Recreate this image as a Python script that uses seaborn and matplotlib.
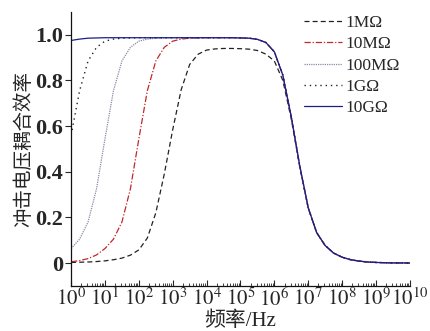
import numpy as np
import pandas as pd
import matplotlib
matplotlib.use("Agg")
import matplotlib.pyplot as plt
import seaborn as sns

# log10 of frequency (Hz)
freq_exp = [0, 0.25, 0.5, 0.75, 1.0, 1.25, 1.5, 1.75, 2.0, 2.25, 2.5, 2.75, 3.0, 3.25, 3.5,
            3.75, 4.0, 4.25, 4.5, 4.75, 5.0, 5.25, 5.5, 5.75, 6.0, 6.25, 6.5, 6.75, 7.0, 7.25,
            7.5, 7.75, 8.0, 8.25, 8.5, 8.75, 9.0, 9.25, 9.5, 9.75, 10.0]

eff_1M = [0.003, 0.004, 0.005, 0.007, 0.010, 0.015, 0.022, 0.035, 0.058, 0.11, 0.22, 0.39,
          0.585, 0.76, 0.87, 0.915, 0.933, 0.938, 0.94, 0.94,
          0.939, 0.937, 0.931, 0.915, 0.885, 0.800, 0.630, 0.420, 0.240, 0.133, 0.077, 0.044,
          0.026, 0.015, 0.009, 0.005, 0.003, 0.002, 0.001, 0.001, 0.0005]
eff_10M = [0.006, 0.011, 0.02, 0.036, 0.064, 0.105, 0.18, 0.325, 0.545, 0.755, 0.885, 0.945,
           0.972, 0.981, 0.985, 0.986, 0.987, 0.987, 0.987, 0.987,
           0.986, 0.985, 0.980, 0.966, 0.925, 0.823, 0.640, 0.425, 0.242, 0.133, 0.077, 0.044,
           0.026, 0.015, 0.009, 0.005, 0.003, 0.002, 0.001, 0.001, 0.0005]
eff_100M = [0.064, 0.105, 0.18, 0.325, 0.545, 0.755, 0.885, 0.945, 0.972, 0.981, 0.985, 0.986,
            0.987, 0.987, 0.987, 0.987, 0.987, 0.987, 0.987, 0.987,
            0.986, 0.985, 0.980, 0.966, 0.925, 0.823, 0.640, 0.425, 0.242, 0.133, 0.077, 0.044,
            0.026, 0.015, 0.009, 0.005, 0.003, 0.002, 0.001, 0.001, 0.0005]
eff_1G = [0.56, 0.755, 0.885, 0.945, 0.972, 0.981, 0.985, 0.986, 0.987, 0.987, 0.987, 0.987,
          0.987, 0.987, 0.987, 0.987, 0.987, 0.987, 0.987, 0.987,
          0.986, 0.985, 0.980, 0.966, 0.925, 0.823, 0.640, 0.425, 0.242, 0.133, 0.077, 0.044,
          0.026, 0.015, 0.009, 0.005, 0.003, 0.002, 0.001, 0.001, 0.0005]
eff_10G = [0.975, 0.981, 0.985, 0.986, 0.987, 0.987, 0.987, 0.987, 0.987, 0.987, 0.987, 0.987,
           0.987, 0.987, 0.987, 0.987, 0.987, 0.987, 0.987, 0.987,
           0.986, 0.985, 0.980, 0.966, 0.925, 0.823, 0.640, 0.425, 0.242, 0.133, 0.077, 0.044,
           0.026, 0.015, 0.009, 0.005, 0.003, 0.002, 0.001, 0.001, 0.0005]

series_labels = ["1MΩ", "10MΩ", "100MΩ", "1GΩ", "10GΩ"]
series_values = [eff_1M, eff_10M, eff_100M, eff_1G, eff_10G]

y_ticks = [0, 0.2, 0.4, 0.6, 0.8, 1.0]
y_ticklabels = ["0", "0.2", "0.4", "0.6", "0.8", "1.0"]
x_tick_exps = list(range(0, 11))

sns.set_style("ticks")
plt.rcParams["font.family"] = ["Liberation Serif", "DejaVu Serif"]
plt.rcParams["mathtext.fontset"] = "stix"

styles = [
    dict(color="#222222", linestyle=(0, (4, 2.5)), linewidth=0.9),
    dict(color="#c0282d", linestyle=(0, (5, 1.5, 1, 1.5)), linewidth=0.9),
    dict(color="#8a8aa8", linestyle=(0, (1, 0.8)), linewidth=0.9),
    dict(color="#222222", linestyle=(0, (1, 2.8)), linewidth=1.0),
    dict(color="#1c1c8a", linestyle="-", linewidth=0.9),
]

fig = plt.figure(figsize=(4.31, 3.31), dpi=100)
ax = fig.add_axes([0.165, 0.136, 0.786, 0.828])

freq = [10 ** e for e in freq_exp]
for lab, vals, st in zip(series_labels, series_values, styles):
    df = pd.DataFrame({"f": freq, "eff": vals})
    sns.lineplot(data=df, x="f", y="eff", ax=ax, label=lab, **st)

ax.set_xscale("log")
ax.set_xlim(1, 1e10)
ax.set_ylim(-0.1, 1.1)
ax.set_xticks([10 ** e for e in x_tick_exps])
ax.set_xticklabels([r"$10^{%d}$" % e for e in x_tick_exps], fontsize=15)
ax.xaxis.set_minor_locator(matplotlib.ticker.LogLocator(base=10, subs=np.arange(2, 10), numticks=100))
ax.xaxis.set_minor_formatter(matplotlib.ticker.NullFormatter())
ax.tick_params(axis="x", which="major", direction="in", length=4, width=0.8, pad=2)
ax.tick_params(axis="x", which="minor", direction="in", length=2.2, width=0.6)
ax.set_yticks(y_ticks)
ax.set_yticklabels(y_ticklabels, fontsize=16, fontweight="bold")
ax.tick_params(axis="y", which="major", direction="out", length=4, width=0.8, pad=2)

for s in ["top", "right"]:
    ax.spines[s].set_visible(False)
for s in ["left", "bottom"]:
    ax.spines[s].set_linewidth(0.9)
    ax.spines[s].set_color("#111111")

ax.set_xlabel("频率/Hz", fontsize=15, family=["Liberation Serif", "Noto Sans CJK SC"], labelpad=0)
ax.set_ylabel("冲击电压耦合效率", fontsize=14, family=["Liberation Serif", "Noto Sans CJK SC"], labelpad=1)

leg = ax.legend(loc="upper left", bbox_to_anchor=(0.706, 0.955), bbox_transform=fig.transFigure,
                frameon=False, fontsize=12.5, handlelength=2.2, handletextpad=0.15,
                labelspacing=0.3, borderpad=0, borderaxespad=0)

fig.savefig("out.png", dpi=100)
